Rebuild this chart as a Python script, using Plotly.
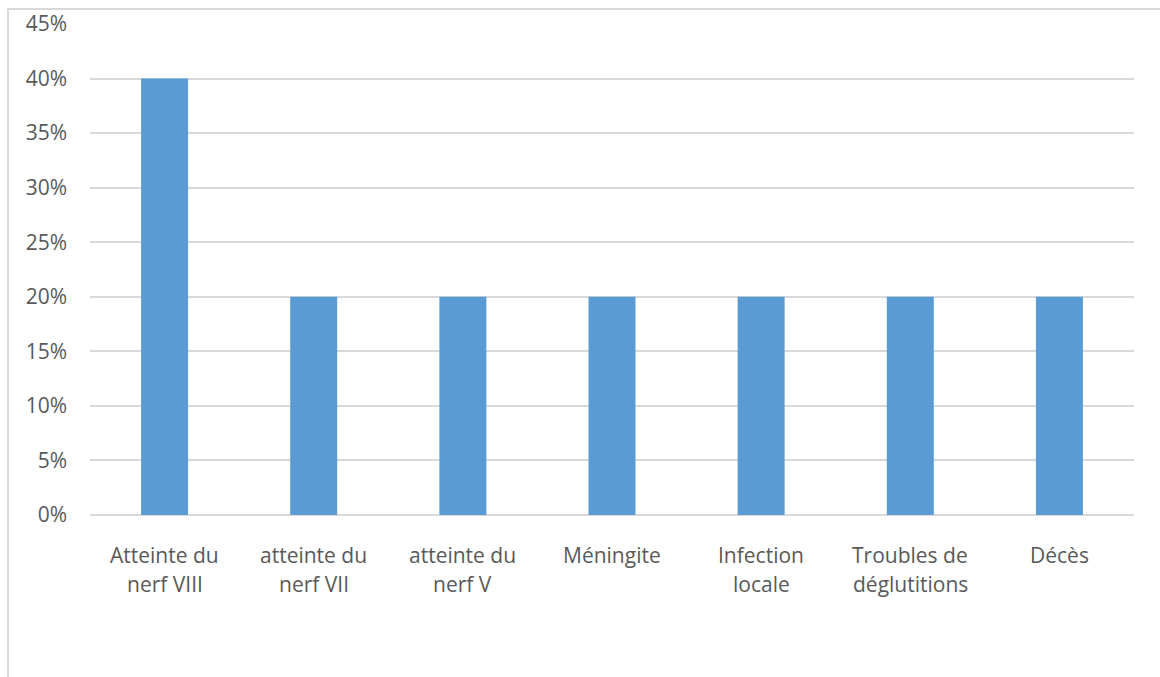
import plotly.graph_objects as go

# Complication categories (two-line labels) and share of patients
categories = ["Atteinte du<br>nerf VIII", "atteinte du<br>nerf VII", "atteinte du<br>nerf V",
              "Méningite", "Infection<br>locale", "Troubles de<br>déglutitions", "Décès"]
values = [0.40, 0.20, 0.20, 0.20, 0.20, 0.20, 0.20]
y_ticks = [0, 0.05, 0.10, 0.15, 0.20, 0.25, 0.30, 0.35, 0.40, 0.45]
y_tick_labels = ["0%", "5%", "10%", "15%", "20%", "25%", "30%", "35%", "40%", "45%"]

GRID = "#d9d9d9"
TEXT = "#595959"
FONT = "Open Sans"
SIZE = 21

fig = go.Figure(go.Bar(x=list(range(len(categories))), y=values,
                       marker=dict(color="#5b9bd5", line=dict(width=0)),
                       width=0.315))

# category labels, one annotation per line for Office-like line spacing
plot_h = 491  # plot height in pixels (677 - top 24 - bottom 162)
annotations = []
for i, label in enumerate(categories):
    for j, line in enumerate(label.split("<br>")):
        offset_px = 40 + 29 * j
        annotations.append(dict(x=i, y=-offset_px / plot_h, xref="x", yref="y domain",
                                text=line, showarrow=False, xanchor="center",
                                yanchor="middle",
                                font=dict(family=FONT, size=SIZE, color=TEXT)))

fig.update_layout(
    width=1160, height=677,
    margin=dict(l=90, r=26, t=24, b=162, autoexpand=False),
    paper_bgcolor="white", plot_bgcolor="white",
    showlegend=False,
    font=dict(family=FONT, size=SIZE, color=TEXT),
    xaxis=dict(range=[-0.5, len(categories) - 0.5], showticklabels=False,
               showgrid=False, zeroline=False, showline=False, ticks="",
               automargin=False),
    yaxis=dict(range=[0, 0.45], tickvals=y_ticks, ticktext=y_tick_labels,
               showgrid=True, gridcolor=GRID, gridwidth=1.5,
               zeroline=True, zerolinecolor=GRID, zerolinewidth=1.5,
               showline=False, ticks="", ticklabelstandoff=22, automargin=False,
               tickfont=dict(family=FONT, size=SIZE, color=TEXT)),
    annotations=annotations,
    shapes=[dict(type="rect", xref="paper", yref="paper",
                 x0=-0.0785, x1=1.2, y0=-0.5, y1=1.0305,
                 line=dict(color=GRID, width=2), layer="below")],
)

fig.write_html("out.html")
